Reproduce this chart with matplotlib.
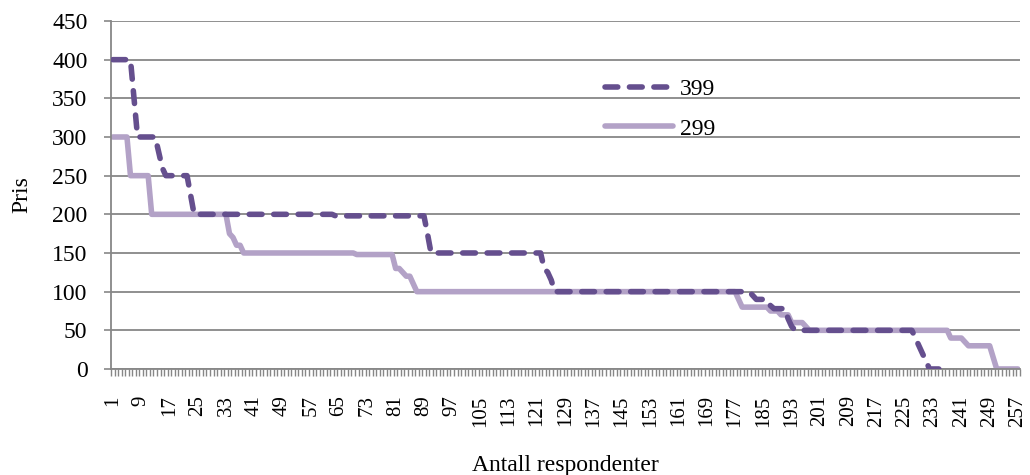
import numpy as np
import matplotlib
matplotlib.use("Agg")
import matplotlib.pyplot as plt

# kategorier 1..257 (antall respondenter)
n_cat = 257
xtick_labels = [str(v) for v in range(1, 258, 8)]

# serie "399": nivaa og antall respondenter per nivaa (avlest)
dark_levels = [400, 350, 300, 280, 260, 250, 225, 200, 198, 175, 150, 130, 125, 115,
               100, 95, 90, 82, 78, 65, 55, 50, 40, 30, 20, 10, 0]
dark_counts = [6, 1, 6, 1, 1, 7, 1, 40, 26, 1, 32, 1, 1, 1,
               56, 1, 4, 1, 4, 1, 1, 34, 1, 1, 1, 1, 4]

# serie "299"
light_levels = [300, 250, 200, 175, 170, 160, 150, 148, 130, 125, 120, 110,
                100, 90, 80, 75, 70, 60, 55, 50, 40, 35, 30, 15, 0]
light_counts = [5, 6, 22, 1, 1, 2, 32, 11, 2, 1, 2, 1,
                91, 1, 8, 3, 3, 4, 1, 40, 4, 1, 7, 1, 7]

dark = np.repeat(dark_levels, dark_counts)
light = np.repeat(light_levels, light_counts)

DARK  = "#654F8E"
LIGHT = "#B3A2C7"
GRID  = "#878787"

plt.rcParams["font.family"] = ["Liberation Serif", "DejaVu Serif"]

fig = plt.figure(figsize=(10.3, 4.75), dpi=100)
ax = fig.add_axes([0.1078, 0.2232, 0.8822, 0.7326])

x_dark  = np.arange(1, len(dark) + 1)
x_light = np.arange(1, len(light) + 1)

ax.plot(x_dark, dark, color=DARK, lw=4.0, linestyle=(0, (2.3, 2.1)),
        dash_capstyle="round", solid_joinstyle="round", label="399", zorder=3)
ax.plot(x_light, light, color=LIGHT, lw=4.0, solid_capstyle="round",
        solid_joinstyle="round", label="299", zorder=2)

ax.set_xlim(0.5, n_cat + 0.5)
ax.set_ylim(0, 450)
ax.set_yticks(range(0, 451, 50))
ax.set_xticks(range(1, n_cat + 1, 8))
ax.set_xticklabels(xtick_labels, rotation=90, fontsize=15)
ax.set_xticks(np.arange(0.5, n_cat + 1), minor=True)
ax.tick_params(axis="x", which="major", length=0, pad=19)
ax.tick_params(axis="x", which="minor", length=5, width=1, color=GRID)
ax.tick_params(axis="y", length=5, width=1.2, color=GRID, labelsize=17, pad=12)

ax.yaxis.grid(True, color=GRID, lw=1.3)
ax.set_axisbelow(True)
for s in ["top", "right"]:
    ax.spines[s].set_visible(False)
for s in ["left", "bottom"]:
    ax.spines[s].set_color(GRID)
    ax.spines[s].set_linewidth(1.3)

ax.set_ylabel("Pris", fontsize=17, labelpad=14)
ax.set_xlabel("Antall respondenter", fontsize=17, labelpad=20)

ax.legend(loc="upper left", bbox_to_anchor=(0.52, 0.895), frameon=False,
          fontsize=17, handlelength=2.9, handletextpad=0.3, labelspacing=0.75)

fig.savefig("out.png", dpi=100)
